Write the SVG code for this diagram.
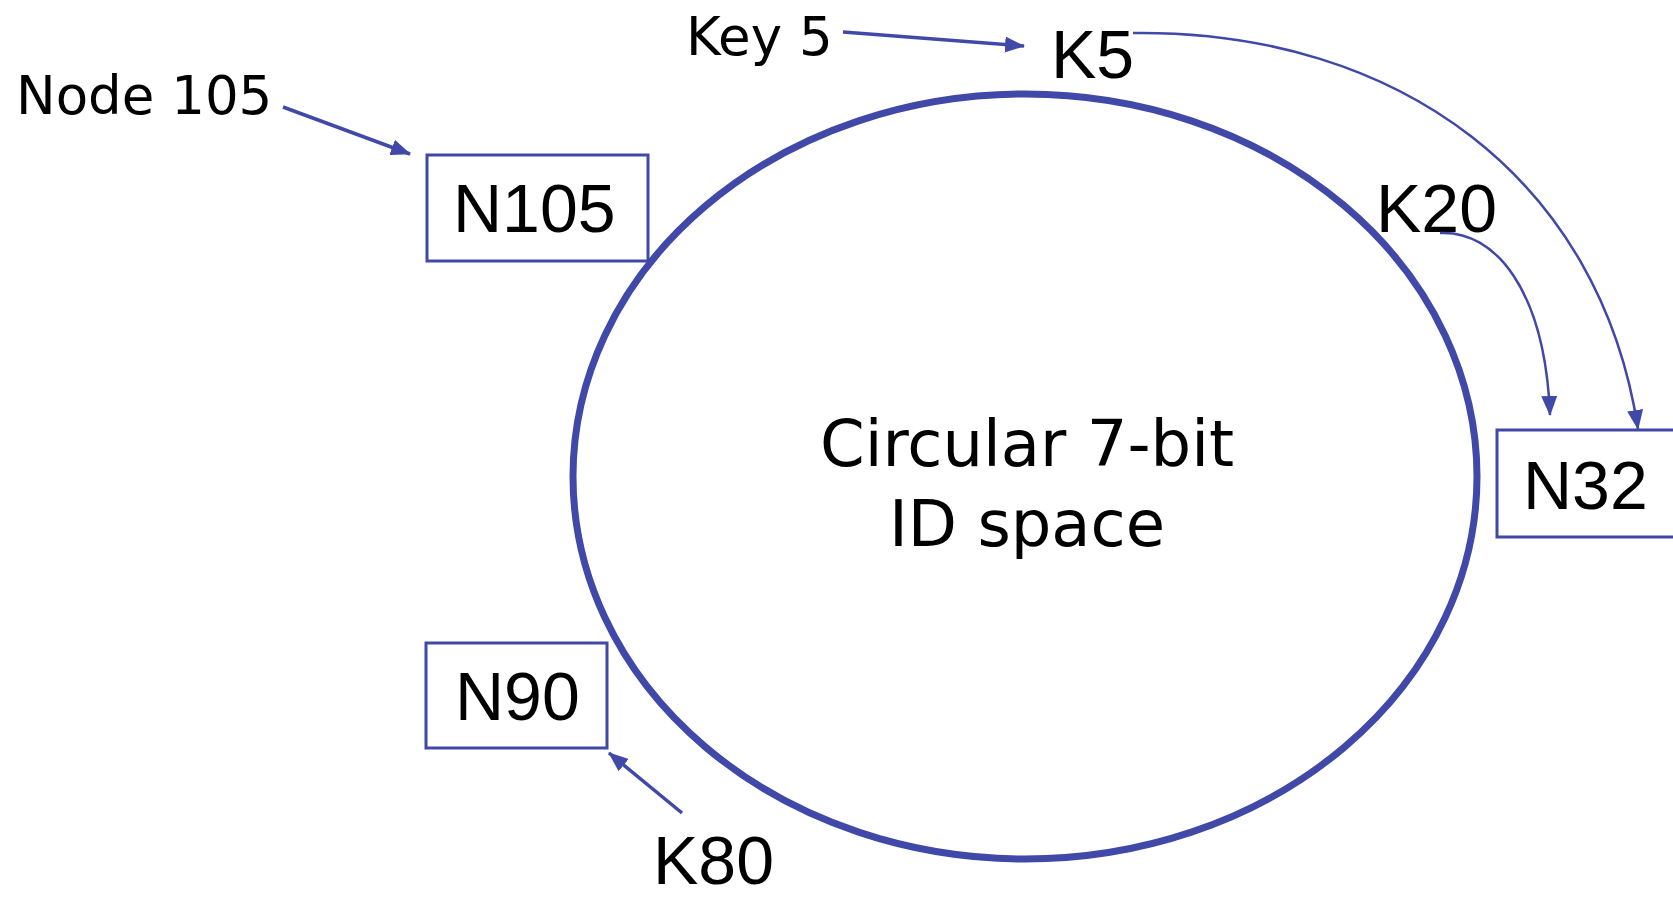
<svg xmlns="http://www.w3.org/2000/svg" width="1673" height="898" viewBox="0 0 1673 898">
<style>
.box{fill:#fff;stroke:#4048A8;stroke-width:3}
.lbl{font-family:"Liberation Sans",Arial,sans-serif;font-size:68px;fill:#000}
.cap{font-family:"DejaVu Sans",Verdana,sans-serif;font-size:53px;fill:#000}
.ctr{font-family:"DejaVu Sans",Verdana,sans-serif;font-size:64px;fill:#000;text-anchor:middle}
.con{fill:none;stroke:#4048A8;stroke-width:3.5;marker-end:url(#ah)}
.arc{fill:none;stroke:#4048A8;stroke-width:2.5;marker-end:url(#ah)}
</style>
<defs>
<marker id="ah" markerUnits="userSpaceOnUse" markerWidth="20" markerHeight="16" viewBox="0 0 20 16" refX="19" refY="8" orient="auto">
<path d="M0,0 L20,8 L0,16 Z" fill="#4048A8"/>
</marker>
</defs>
<rect width="1673" height="898" fill="#fff"/>
<g id="ring">
<ellipse cx="1025" cy="476.5" rx="452" ry="382.5" fill="none" stroke="#4048A8" stroke-width="7"/>
<text class="ctr" x="1027" y="466">Circular 7-bit</text>
<text class="ctr" x="1027" y="546">ID space</text>
</g>
<g id="n105">
<rect class="box" x="427" y="155" width="221" height="106"/>
<text class="lbl" x="453" y="232">N105</text>
</g>
<g id="n90">
<rect class="box" x="426" y="643" width="181" height="105"/>
<text class="lbl" x="455" y="720">N90</text>
</g>
<g id="n32">
<rect class="box" x="1497" y="430" width="190" height="107"/>
<text class="lbl" x="1523" y="509">N32</text>
</g>
<g id="k5"><text class="lbl" x="1051" y="78">K5</text></g>
<g id="k20"><text class="lbl" x="1376" y="232">K20</text></g>
<g id="k80"><text class="lbl" x="653" y="884">K80</text></g>
<g id="node105label"><text class="cap" x="16" y="114">Node 105</text></g>
<g id="key5label"><text class="cap" x="686" y="55">Key 5</text></g>
<g id="connectors">
<path class="con" d="M283,107 L410,154"/>
<path class="con" d="M843,32 L1024,46"/>
<path class="con" d="M682,813 L609,753"/>
<path class="arc" d="M1133,33 C1400,30 1600,180 1638,429"/>
<path class="arc" d="M1440,233 C1495,230 1545,290 1550,415"/>
</g>
</svg>
